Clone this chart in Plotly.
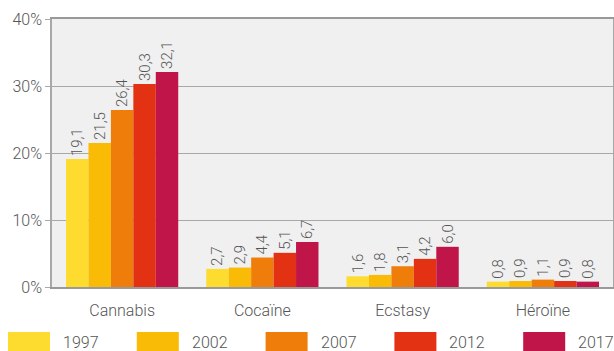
import plotly.graph_objects as go

drogues = ["Cannabis", "Cocaïne", "Ecstasy", "Héroïne"]
annees = ["1997", "2002", "2007", "2012", "2017"]

v1997 = [19.1, 2.7, 1.6, 0.8]
v2002 = [21.5, 2.9, 1.8, 0.9]
v2007 = [26.4, 4.4, 3.1, 1.1]
v2012 = [30.3, 5.1, 4.2, 0.9]
v2017 = [32.1, 6.7, 6.0, 0.8]

valeurs = [v1997, v2002, v2007, v2012, v2017]
couleurs = ["#FDDC2F", "#FABB06", "#EE7D0A", "#E33213", "#BF1549"]

gris = "#555555"
police = dict(family="Roboto", weight=300, color=gris)

fig = go.Figure()
for annee, vals, coul in zip(annees, valeurs, couleurs):
    fig.add_trace(go.Bar(
        x=drogues, y=vals, name=annee,
        marker=dict(color=coul, line=dict(width=0)),
        text=vals, texttemplate="%{y:.1f}",
        textposition="outside", textangle=-90,
        textfont=dict(size=15, **police),
        constraintext="none",
        cliponaxis=False,
    ))

L, T, W, H = 52, 19, 561, 268
fig.update_layout(
    width=614, height=351,
    margin=dict(l=L, r=614 - L - W, t=T, b=351 - T - H, autoexpand=False),
    barmode="group", bargap=0.2, bargroupgap=0,
    separators=", ",
    paper_bgcolor="white", plot_bgcolor="#F0F0F0",
    font=dict(size=15, **police),
    showlegend=False,
)

# légende dessinée à la main (grands rectangles)
def px_x(x):
    return (x - L) / W

def px_y(y):
    return (T + H - y) / H

for i, (annee, coul) in enumerate(zip(annees, couleurs)):
    x0 = 8 + i * 128.8
    fig.add_shape(type="rect", xref="paper", yref="paper",
                  x0=px_x(x0), x1=px_x(x0 + 42), y0=px_y(332), y1=px_y(354),
                  fillcolor=coul, line=dict(width=0))
    fig.add_annotation(text=annee, xref="paper", yref="paper",
                       x=px_x(x0 + 53), y=px_y(342), xanchor="left", yanchor="middle",
                       showarrow=False, font=dict(size=16, **police))

fig.update_yaxes(
    range=[0, 40], dtick=10, ticksuffix="%",
    showgrid=True, gridcolor="#A8A8A8", gridwidth=1,
    showline=True, linecolor="#A8A8A8", linewidth=1.5, mirror=True,
    ticks="outside", ticklen=5, tickcolor="#A8A8A8",
    zeroline=False, tickfont=dict(size=16, **police),
)
fig.update_xaxes(
    showline=True, linecolor="#999999", linewidth=2, mirror=True,
    ticks="", ticklabelstandoff=8, tickfont=dict(size=16, **police),
)

# pas de marge autour de la page, pas de barre d'outils
fig.write_html("out.html", config={"displayModeBar": False},
               post_script="document.body.style.margin='0';document.body.style.overflow='hidden';")
